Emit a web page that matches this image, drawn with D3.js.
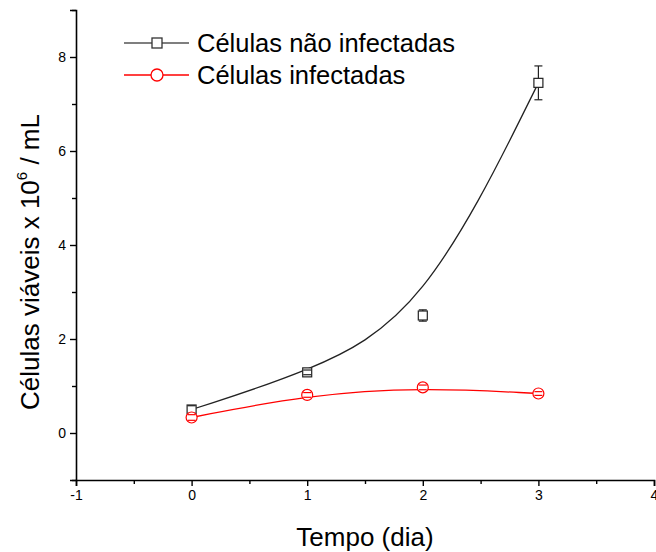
<!DOCTYPE html>
<html><head><meta charset="utf-8">
<script src="https://cdn.jsdelivr.net/npm/d3@7"></script>
<style>body{margin:0;background:#fff}svg{display:block;font-family:"Liberation Sans",Arial,sans-serif}</style>
</head><body><svg id="c" width="656" height="552"></svg>
<script>
const days = [0, 1, 2, 3];
const uninfected = [0.50, 1.29, 2.50, 7.45];
const uninfectedErr = [0.08, 0.05, 0.12, 0.36];
const infected = [0.33, 0.81, 0.97, 0.84];
const infectedErr = [0.06, 0.05, 0.05, 0.04];
const xTicks = [-1, 0, 1, 2, 3, 4];
const yTicks = [0, 2, 4, 6, 8];
const seriesNames = ["Células não infectadas", "Células infectadas"];

const svg = d3.select("#c");
const x = d3.scaleLinear().domain([-1, 4]).range([76, 654]);
const y = d3.scaleLinear().domain([-1, 9]).range([480, 10]);
const fmt = d => String(d);

svg.append("g").attr("transform", "translate(0,480)")
  .call(d3.axisBottom(x).tickValues(xTicks).tickFormat(fmt).tickSize(6).tickPadding(4));
svg.append("g").attr("transform", "translate(0,480)")
  .call(d3.axisBottom(x).tickValues(d3.range(-0.5, 4, 1)).tickFormat("").tickSize(4))
  .call(g => g.select(".domain").remove());
svg.append("g").attr("transform", "translate(76,0)")
  .call(d3.axisLeft(y).tickValues(yTicks).tickFormat(fmt).tickSize(6).tickPadding(4));
svg.append("g").attr("transform", "translate(76,0)")
  .call(d3.axisLeft(y).tickValues([-1, 1, 3, 5, 7, 9]).tickFormat("").tickSize(4))
  .call(g => g.select(".domain").remove());
svg.selectAll(".domain").attr("stroke", "#000").attr("stroke-width", 1.6);
svg.selectAll(".tick line").attr("stroke", "#000").attr("stroke-width", 1.4);
svg.selectAll(".tick text").attr("font-size", 14).attr("fill", "#000").attr("font-family", "'Liberation Sans',Arial,sans-serif");

svg.append("text").attr("x", 365).attr("y", 546).attr("text-anchor", "middle")
  .attr("font-size", 26).text("Tempo (dia)");
const yl = svg.append("text").attr("transform", "translate(39,262) rotate(-90)")
  .attr("text-anchor", "middle").attr("font-size", 26);
yl.append("tspan").text("Células viáveis x 10");
yl.append("tspan").attr("font-size", 15).attr("dy", -12).text("6");
yl.append("tspan").attr("dy", 12).text(" / mL");

const series = [
  {vals: uninfected, err: uninfectedErr, color: "#222", shape: "square"},
  {vals: infected, err: infectedErr, color: "#ff0000", shape: "circle"}
];
const line = d3.line().x(d => x(d[0])).y(d => y(d[1])).curve(d3.curveBasis);

series.forEach(s => {
  const pts = days.map((d, i) => [d, s.vals[i], s.err[i]]);
  svg.append("path").datum(pts).attr("d", line).attr("fill", "none")
    .attr("stroke", s.color).attr("stroke-width", 1.3);
  const g = svg.append("g");
  pts.forEach(p => {
    if (s.shape === "square") {
      g.append("rect").attr("x", x(p[0]) - 4.5).attr("y", y(p[1]) - 4.5).attr("width", 9).attr("height", 9)
        .attr("fill", "#fff").attr("stroke", s.color).attr("stroke-width", 1.2);
    } else {
      g.append("circle").attr("cx", x(p[0])).attr("cy", y(p[1])).attr("r", 5.5)
        .attr("fill", "#fff").attr("stroke", s.color).attr("stroke-width", 1.2);
    }
    const cx = x(p[0]), t = y(p[1] + p[2]), b = y(p[1] - p[2]);
    const eb = svg.append("g").attr("stroke", s.color).attr("stroke-width", 1.2);
    eb.append("line").attr("x1", cx).attr("x2", cx).attr("y1", t).attr("y2", Math.max(t, y(p[1]) - 4.5));
    eb.append("line").attr("x1", cx).attr("x2", cx).attr("y1", Math.min(b, y(p[1]) + 4.5)).attr("y2", b);
    eb.append("line").attr("x1", cx - 4).attr("x2", cx + 4).attr("y1", t).attr("y2", t);
    eb.append("line").attr("x1", cx - 4).attr("x2", cx + 4).attr("y1", b).attr("y2", b);
  });
});

const leg = svg.append("g");
seriesNames.forEach((name, i) => {
  const s = series[i];
  const ly = 43 + i * 32;
  leg.append("line").attr("x1", 124).attr("x2", 189).attr("y1", ly).attr("y2", ly)
    .attr("stroke", i === 0 ? "#555" : "#ff0000").attr("stroke-width", 1.3);
  if (s.shape === "square") {
    leg.append("rect").attr("x", 152).attr("y", ly - 5).attr("width", 10).attr("height", 10)
      .attr("fill", "#fff").attr("stroke", "#333").attr("stroke-width", 1.3);
  } else {
    leg.append("circle").attr("cx", 157).attr("cy", ly).attr("r", 6)
      .attr("fill", "#fff").attr("stroke", "#ff0000").attr("stroke-width", 1.3);
  }
  leg.append("text").attr("x", 197).attr("y", ly + 9).attr("font-size", 25.5).text(name);
});
</script></body></html>
